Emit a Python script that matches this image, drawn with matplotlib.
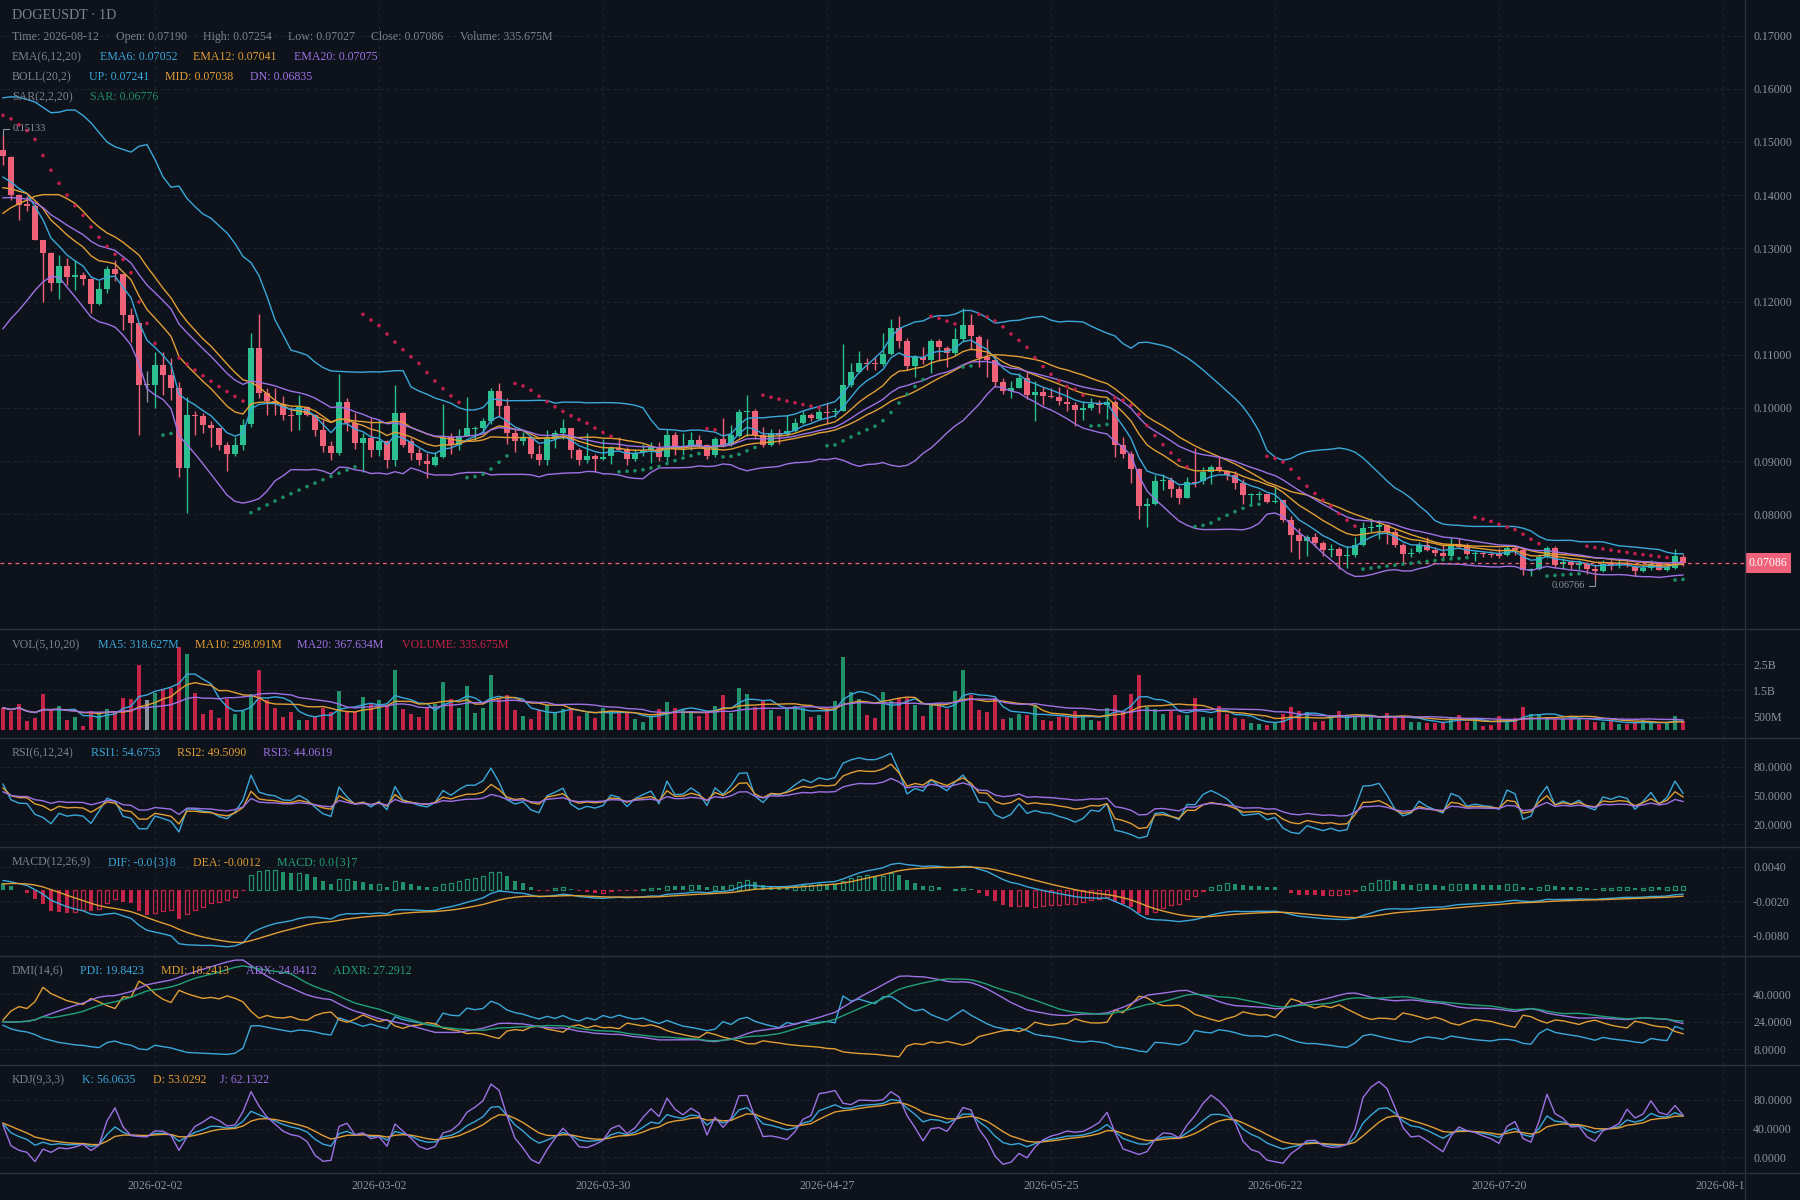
import numpy as np
import pandas as pd
import matplotlib
matplotlib.use("Agg")
import matplotlib.pyplot as plt
from matplotlib.lines import Line2D
from matplotlib.transforms import blended_transform_factory

plt.rcParams['font.family'] = ['Liberation Serif', 'DejaVu Serif']

# ---------------- data ----------------
first_day = "2026-01-14"

opens = [
    0.1484, 0.1472, 0.1401, 0.1383, 0.1379, 0.1316, 0.1292, 0.1234, 0.1266, 0.1246,
    0.1249, 0.1243, 0.1195, 0.1224, 0.1262, 0.1251, 0.1174, 0.1159, 0.1044, 0.1044,
    0.1080, 0.1061, 0.1038, 0.0887, 0.0986, 0.0984, 0.0967, 0.0962, 0.0930, 0.0913,
    0.0931, 0.0970, 0.1112, 0.1028, 0.1013, 0.1008, 0.0987, 0.0986, 0.1002, 0.0987,
    0.0959, 0.0929, 0.0915, 0.1011, 0.0971, 0.0935, 0.0943, 0.0921, 0.0937, 0.0902,
    0.0990, 0.0937, 0.0915, 0.0901, 0.0893, 0.0907, 0.0946, 0.0930, 0.0948, 0.0961,
    0.0962, 0.0975, 0.1031, 0.1003, 0.0953, 0.0937, 0.0943, 0.0914, 0.0903, 0.0942,
    0.0952, 0.0963, 0.0921, 0.0903, 0.0909, 0.0904, 0.0909, 0.0925, 0.0923, 0.0904,
    0.0917, 0.0920, 0.0923, 0.0908, 0.0950, 0.0926, 0.0928, 0.0939, 0.0931, 0.0911,
    0.0942, 0.0930, 0.0948, 0.0992, 0.0994, 0.0949, 0.0931, 0.0953, 0.0951, 0.0957,
    0.0972, 0.0986, 0.0980, 0.0993, 0.0992, 0.0995, 0.1043, 0.1067, 0.1085, 0.1085,
    0.1083, 0.1102, 0.1150, 0.1126, 0.1079, 0.1096, 0.1090, 0.1126, 0.1113, 0.1104,
    0.1129, 0.1155, 0.1134, 0.1096, 0.1091, 0.1048, 0.1031, 0.1038, 0.1057, 0.1025,
    0.1030, 0.1023, 0.1021, 0.1011, 0.1006, 0.0997, 0.1000, 0.1007, 0.1005, 0.1011,
    0.0930, 0.0914, 0.0885, 0.0816, 0.0819, 0.0862, 0.0864, 0.0848, 0.0831, 0.0861,
    0.0862, 0.0880, 0.0889, 0.0882, 0.0874, 0.0859, 0.0836, 0.0837, 0.0838, 0.0823,
    0.0826, 0.0789, 0.0761, 0.0750, 0.0758, 0.0746, 0.0733, 0.0735, 0.0722, 0.0724,
    0.0742, 0.0775, 0.0776, 0.0780, 0.0766, 0.0742, 0.0725, 0.0729, 0.0742, 0.0733,
    0.0727, 0.0721, 0.0745, 0.0742, 0.0725, 0.0727, 0.0726, 0.0727, 0.0723, 0.0736,
    0.0733, 0.0695, 0.0698, 0.0719, 0.0736, 0.0707, 0.0710, 0.0704, 0.0707, 0.0698,
    0.0693, 0.0709, 0.0705, 0.0709, 0.0701, 0.0694, 0.0699, 0.0707, 0.0695, 0.0699, 0.07190,
]
highs = [
    0.15133, 0.1473, 0.1403, 0.1398, 0.1384, 0.1316, 0.1293, 0.1288, 0.1281, 0.1279,
    0.1256, 0.1244, 0.1238, 0.1267, 0.1279, 0.1252, 0.1187, 0.1159, 0.1070, 0.1105,
    0.1105, 0.1094, 0.1048, 0.1021, 0.0994, 0.0991, 0.0976, 0.0963, 0.0936, 0.0945,
    0.0979, 0.1140, 0.1176, 0.1037, 0.1037, 0.1023, 0.1002, 0.1024, 0.1004, 0.0988,
    0.0977, 0.0937, 0.1063, 0.1018, 0.0990, 0.0952, 0.0981, 0.0977, 0.0940, 0.1044,
    0.0993, 0.0943, 0.0924, 0.0915, 0.0917, 0.1007, 0.0952, 0.0960, 0.1021, 0.0966,
    0.0981, 0.1038, 0.1046, 0.1019, 0.0960, 0.0955, 0.0948, 0.0930, 0.0959, 0.0958,
    0.0980, 0.0963, 0.0925, 0.0953, 0.0914, 0.0942, 0.0928, 0.0945, 0.0926, 0.0923,
    0.0933, 0.0936, 0.0936, 0.0961, 0.0955, 0.0952, 0.0955, 0.0950, 0.0933, 0.0945,
    0.0981, 0.0968, 0.0998, 0.1024, 0.0998, 0.0964, 0.0961, 0.0961, 0.0987, 0.0981,
    0.0995, 0.0991, 0.0998, 0.1010, 0.0999, 0.1121, 0.1085, 0.1107, 0.1094, 0.1096,
    0.1140, 0.1167, 0.1172, 0.1131, 0.1099, 0.1115, 0.1129, 0.1129, 0.1117, 0.1150,
    0.1187, 0.1176, 0.1137, 0.1129, 0.1099, 0.1057, 0.1051, 0.1065, 0.1068, 0.1051,
    0.1040, 0.1038, 0.1040, 0.1035, 0.1011, 0.1013, 0.1019, 0.1014, 0.1019, 0.1014,
    0.0945, 0.0919, 0.0888, 0.0830, 0.0873, 0.0875, 0.0870, 0.0854, 0.0870, 0.0924,
    0.0889, 0.0892, 0.0909, 0.0883, 0.0882, 0.0867, 0.0840, 0.0843, 0.0839, 0.0851,
    0.0826, 0.0797, 0.0775, 0.0761, 0.0764, 0.0750, 0.0744, 0.0738, 0.0740, 0.0757,
    0.0785, 0.0794, 0.0789, 0.0782, 0.0772, 0.0746, 0.0736, 0.0748, 0.0757, 0.0738,
    0.0742, 0.0756, 0.0756, 0.0746, 0.0731, 0.0731, 0.0731, 0.0737, 0.0740, 0.0740,
    0.0736, 0.0699, 0.0726, 0.0740, 0.0740, 0.0717, 0.0714, 0.0714, 0.0711, 0.0706,
    0.0715, 0.0715, 0.0714, 0.0712, 0.0704, 0.0704, 0.0714, 0.0711, 0.0704, 0.0734, 0.07254,
]
lows = [
    0.1456, 0.1390, 0.1353, 0.1370, 0.1315, 0.1200, 0.1219, 0.1204, 0.1232, 0.1221,
    0.1231, 0.1179, 0.1193, 0.1216, 0.1238, 0.1146, 0.1124, 0.0949, 0.1012, 0.0999,
    0.1024, 0.1014, 0.0870, 0.0803, 0.0949, 0.0952, 0.0927, 0.0920, 0.0881, 0.0909,
    0.0921, 0.0965, 0.1018, 0.0987, 0.0986, 0.0977, 0.0957, 0.0959, 0.0985, 0.0948,
    0.0917, 0.0902, 0.0912, 0.0957, 0.0923, 0.0880, 0.0907, 0.0910, 0.0887, 0.0890,
    0.0927, 0.0902, 0.0893, 0.0869, 0.0890, 0.0905, 0.0913, 0.0921, 0.0947, 0.0940,
    0.0952, 0.0970, 0.0983, 0.0933, 0.0918, 0.0930, 0.0906, 0.0893, 0.0893, 0.0925,
    0.0942, 0.0906, 0.0893, 0.0896, 0.0880, 0.0903, 0.0895, 0.0920, 0.0892, 0.0901,
    0.0909, 0.0896, 0.0901, 0.0901, 0.0912, 0.0911, 0.0920, 0.0925, 0.0904, 0.0908,
    0.0926, 0.0929, 0.0946, 0.0948, 0.0942, 0.0927, 0.0929, 0.0932, 0.0948, 0.0954,
    0.0970, 0.0975, 0.0977, 0.0970, 0.0983, 0.0994, 0.1040, 0.1065, 0.1072, 0.1071,
    0.1079, 0.1100, 0.1113, 0.1071, 0.1058, 0.1082, 0.1065, 0.1088, 0.1077, 0.1099,
    0.1125, 0.1109, 0.1077, 0.1058, 0.1040, 0.1027, 0.1019, 0.1037, 0.1016, 0.0975,
    0.1006, 0.1018, 0.1005, 0.0994, 0.0966, 0.0977, 0.0996, 0.0991, 0.0979, 0.0908,
    0.0906, 0.0859, 0.0791, 0.0777, 0.0817, 0.0845, 0.0832, 0.0819, 0.0830, 0.0852,
    0.0857, 0.0857, 0.0879, 0.0864, 0.0848, 0.0819, 0.0819, 0.0827, 0.0821, 0.0821,
    0.0785, 0.0730, 0.0716, 0.0722, 0.0738, 0.0722, 0.0719, 0.0697, 0.0700, 0.0719,
    0.0741, 0.0766, 0.0753, 0.0744, 0.0738, 0.0709, 0.0719, 0.0727, 0.0731, 0.0721,
    0.0717, 0.0717, 0.0736, 0.0723, 0.0712, 0.0720, 0.0719, 0.0717, 0.0721, 0.0723,
    0.0685, 0.0684, 0.0695, 0.0717, 0.0701, 0.0698, 0.0698, 0.0698, 0.0687, 0.06766,
    0.0692, 0.0695, 0.0700, 0.0701, 0.0684, 0.0692, 0.0696, 0.0695, 0.0694, 0.0698, 0.07027,
]
closes = [
    0.1473, 0.1401, 0.1382, 0.1380, 0.1316, 0.1292, 0.1234, 0.1266, 0.1246, 0.1249,
    0.1243, 0.1195, 0.1224, 0.1262, 0.1251, 0.1174, 0.1159, 0.1044, 0.1044, 0.1080,
    0.1061, 0.1038, 0.0887, 0.0986, 0.0984, 0.0967, 0.0962, 0.0930, 0.0913, 0.0931,
    0.0967, 0.1112, 0.1028, 0.1013, 0.1007, 0.0987, 0.0985, 0.1002, 0.0987, 0.0959,
    0.0929, 0.0915, 0.1011, 0.0971, 0.0935, 0.0943, 0.0921, 0.0937, 0.0902, 0.0990,
    0.0930, 0.0916, 0.0902, 0.0895, 0.0907, 0.0944, 0.0930, 0.0948, 0.0962, 0.0962,
    0.0975, 0.1031, 0.1003, 0.0953, 0.0937, 0.0943, 0.0914, 0.0903, 0.0942, 0.0952,
    0.0963, 0.0921, 0.0903, 0.0909, 0.0904, 0.0908, 0.0925, 0.0921, 0.0904, 0.0915,
    0.0921, 0.0926, 0.0908, 0.0950, 0.0926, 0.0927, 0.0939, 0.0931, 0.0909, 0.0942,
    0.0930, 0.0950, 0.0992, 0.0994, 0.0949, 0.0931, 0.0952, 0.0949, 0.0957, 0.0972,
    0.0986, 0.0982, 0.0993, 0.0991, 0.0995, 0.1043, 0.1067, 0.1085, 0.1083, 0.1083,
    0.1102, 0.1150, 0.1126, 0.1079, 0.1096, 0.1090, 0.1126, 0.1114, 0.1104, 0.1129,
    0.1155, 0.1135, 0.1094, 0.1091, 0.1048, 0.1031, 0.1038, 0.1057, 0.1025, 0.1030,
    0.1023, 0.1021, 0.1013, 0.1007, 0.0997, 0.1000, 0.1007, 0.1005, 0.1011, 0.0930,
    0.0914, 0.0885, 0.0816, 0.0819, 0.0862, 0.0864, 0.0848, 0.0831, 0.0860, 0.0859,
    0.0880, 0.0889, 0.0882, 0.0874, 0.0859, 0.0836, 0.0837, 0.0838, 0.0823, 0.0825,
    0.0789, 0.0761, 0.0750, 0.0758, 0.0746, 0.0733, 0.0735, 0.0722, 0.0723, 0.0742,
    0.0775, 0.0776, 0.0780, 0.0766, 0.0742, 0.0725, 0.0728, 0.0742, 0.0733, 0.0727,
    0.0721, 0.0743, 0.0739, 0.0725, 0.0727, 0.0725, 0.0724, 0.0721, 0.0736, 0.0733,
    0.0695, 0.0698, 0.0719, 0.0736, 0.0704, 0.0710, 0.0704, 0.0709, 0.0698, 0.0693,
    0.0707, 0.0704, 0.0707, 0.0705, 0.0693, 0.0699, 0.0707, 0.0695, 0.0701, 0.0721, 0.07086,
]
# volume in millions
volume_m = [
    840, 710, 970, 330, 460, 1350, 740, 920, 390, 510,
    170, 710, 640, 800, 710, 1200, 1160, 2450, 1120, 1400,
    1560, 1600, 3140, 2870, 1420, 590, 740, 460, 1180, 610,
    710, 1350, 2260, 1120, 840, 510, 680, 390, 390, 510,
    840, 680, 1460, 710, 680, 1250, 970, 1120, 930, 2260,
    800, 620, 480, 840, 1000, 1800, 1160, 830, 1650, 640,
    830, 2100, 1160, 1310, 760, 530, 420, 760, 940, 630,
    790, 840, 530, 660, 470, 830, 720, 630, 660, 420,
    320, 480, 790, 1060, 830, 780, 720, 530, 710, 910,
    1310, 660, 1580, 1360, 880, 1090, 760, 530, 840, 910,
    840, 490, 570, 830, 1090, 2780, 1430, 1160, 570, 460,
    1430, 1090, 1230, 1230, 940, 530, 940, 1040, 790, 1470,
    2290, 1340, 760, 690, 1220, 420, 460, 610, 570, 940,
    380, 340, 480, 480, 720, 510, 380, 340, 830, 1320,
    690, 1360, 2070, 880, 790, 610, 720, 570, 570, 1210,
    490, 460, 910, 610, 460, 420, 270, 230, 190, 310,
    610, 870, 720, 680, 310, 340, 460, 720, 530, 530,
    530, 490, 420, 640, 460, 530, 310, 310, 270, 270,
    270, 490, 570, 310, 380, 160, 190, 530, 340, 460,
    870, 610, 610, 490, 420, 460, 420, 460, 380, 310,
    310, 340, 230, 230, 270, 380, 270, 230, 270, 530, 335.675,
]

# indicator state at the left edge (history before the first visible day)
boll_up_head = [0.1583, 0.1585, 0.1584, 0.1580, 0.1575, 0.1565, 0.1555, 0.1556, 0.1560, 0.1560,
                0.1550, 0.1536, 0.1518, 0.1500, 0.1491, 0.1486, 0.1481, 0.1492, 0.1495]
boll_dn_head = [0.1149, 0.1168, 0.1184, 0.1202, 0.1221, 0.1237, 0.1247, 0.1246, 0.1227, 0.1209,
                0.1190, 0.1171, 0.1162, 0.1158, 0.1152, 0.1137, 0.1118, 0.1083, 0.1036]
ema_start = {6: 0.1434, 12: 0.1414, 20: 0.1395, 26: 0.1398}
dea_start = 0.0010
sar_start = 0.1550
rsi_start = {6: 62.0, 12: 58.0, 24: 54.0}
dmi_start = (22.0, 25.0, 24.0)   # PDI, MDI, ADX
kd_prior = (55.0, 48.0)

date_ticks = ["2026-02-02", "2026-03-02", "2026-03-30", "2026-04-27",
              "2026-05-25", "2026-06-22", "2026-07-20", "2026-08-17"]

# ---------------- indicators ----------------
o, h, l, c = map(np.array, (opens, highs, lows, closes))
vol = np.array(volume_m) * 1e6
n = len(c)
idx = np.arange(n)
dates = pd.date_range(first_day, periods=n, freq="D")
tick_idx = [(pd.Timestamp(d) - dates[0]).days for d in date_ticks]


def ema(x, span, first):
    a = 2.0 / (span + 1)
    out = np.empty(len(x))
    out[0] = first
    for i in range(1, len(x)):
        out[i] = out[i - 1] + a * (x[i] - out[i - 1])
    return out


ema6 = ema(c, 6, ema_start[6])
ema12 = ema(c, 12, ema_start[12])
ema20 = ema(c, 20, ema_start[20])

cs = pd.Series(c)
mid = cs.rolling(20).mean().to_numpy()
sd = cs.rolling(20).std(ddof=0).to_numpy()
bup, bdn = mid + 2 * sd, mid - 2 * sd
k0 = len(boll_up_head)
bup[:k0], bdn[:k0] = boll_up_head, boll_dn_head
mid[:k0] = (bup[:k0] + bdn[:k0]) / 2


def psar(h, l, start, af_start=0.02, step=0.02, af_max=0.2):
    # same stepping as the charting library: ep/af refreshed on the bar itself
    out = np.empty(len(h))
    rising = np.zeros(len(h), bool)
    s, ep, af, up_tr = start, l[0], af_start, False
    out[0] = s
    for i in range(1, len(h)):
        if up_tr:
            if ep is None or ep < h[i]:
                ep, af = h[i], min(af + step, af_max)
            s = s + af * (ep - s)
            low_min = min(l[i - 1], l[i])
            if s > l[i]:
                s, af, ep, up_tr = ep, af_start, None, False
            elif s > low_min:
                s = low_min
        else:
            if ep is None or ep > l[i]:
                ep, af = l[i], min(af + step, af_max)
            s = s + af * (ep - s)
            high_max = max(h[i - 1], h[i])
            if s < h[i]:
                s, af, ep, up_tr = ep, 0.0, None, True
            elif s < high_max:
                s = high_max
        out[i] = s
        rising[i] = up_tr
    return out, rising


sar, sar_up = psar(h, l, sar_start)

vs = pd.Series(vol)
vma5 = vs.rolling(5, min_periods=1).mean()
vma10 = vs.rolling(10, min_periods=1).mean()
vma20 = vs.rolling(20, min_periods=1).mean()

chg = np.diff(c)
chg_scale = np.abs(chg[:24]).mean()


def rsi(p, start):
    g, a = start / 100 * chg_scale, chg_scale
    out = [start]
    for d in chg:
        g = (max(d, 0) + (p - 1) * g) / p
        a = (abs(d) + (p - 1) * a) / p
        out.append(100 * g / a)
    return np.array(out)


rsi6, rsi12, rsi24 = rsi(6, rsi_start[6]), rsi(12, rsi_start[12]), rsi(24, rsi_start[24])

dif = ema12 - ema(c, 26, ema_start[26])
dea = ema(dif, 9, dea_start)
macd = 2 * (dif - dea)

# DMI(14,6): Wilder smoothing for TR / DM and for ADX, ADXR from ADX 6 bars back
prev_c = np.r_[c[0], c[:-1]]
prev_h = np.r_[h[0], h[:-1]]
prev_l = np.r_[l[0], l[:-1]]
tr = np.max([h - l, np.abs(h - prev_c), np.abs(l - prev_c)], axis=0)
hd, ld = h - prev_h, prev_l - l
dmp = np.where((hd > 0) & (hd > ld), hd, 0.0)
dmm = np.where((ld > 0) & (ld > hd), ld, 0.0)
N, MM = 14, 6
mtr = N * tr[1:N + 1].mean()
sp, sm = dmi_start[0] / 100 * mtr, dmi_start[1] / 100 * mtr
av = dmi_start[2]
pdi, mdi, adx = [dmi_start[0]], [dmi_start[1]], [av]
for i in range(1, n):
    mtr = mtr - mtr / N + tr[i]
    sp = sp - sp / N + dmp[i]
    sm = sm - sm / N + dmm[i]
    p, m = sp * 100 / mtr, sm * 100 / mtr
    dx = abs(m - p) / (m + p) * 100 if (m + p) > 0 else 0.0
    av = (av * (N - 1) + dx) / N
    pdi.append(p)
    mdi.append(m)
    adx.append(av)
pdi, mdi = np.array(pdi), np.array(mdi)
adx_s = pd.Series(adx)
adxr = ((adx_s + adx_s.shift(MM)) / 2).fillna(adx_s).to_numpy()
adx = adx_s.to_numpy()

llv = pd.Series(l).rolling(9, min_periods=1).min().to_numpy()
hhv = pd.Series(h).rolling(9, min_periods=1).max().to_numpy()
rsv = (c - llv) / (hhv - llv) * 100
kk, dd = [], []
kv, dv = kd_prior
for r in rsv:
    kv = (2 * kv + r) / 3
    dv = (2 * dv + kv) / 3
    kk.append(kv)
    dd.append(dv)
kk, dd = np.array(kk), np.array(dd)
jj = 3 * kk - 2 * dd

# ---------------- style ----------------
BG = "#0d121b"
GRID = "#1e2531"
SEP = "#2a313e"
TXT = "#7b838f"
TICK = "#8c949f"
CYAN = "#3aa8da"
ORANGE = "#e29e34"
PURPLE = "#9d72e4"
TEAL = "#22a078"
UP = "#2ac08f"
DOWN = "#f0617a"
FLAT = "#8a909a"
VUP, VDN = "#22906a", "#c52449"
SAR_UP, SAR_DN = "#1e8c63", "#c01f48"

W, H = 1800, 1200
AXR = 1745
FS = 8.6
XL = (-0.375, 217.75)

fig = plt.figure(figsize=(18, 12), dpi=100, facecolor=BG)


def panel(top, bottom):
    return fig.add_axes([0, 1 - bottom / H, AXR / W, (bottom - top) / H], facecolor=BG)


def style(ax, ylim, ticks, labels):
    ax.set_xlim(XL)
    ax.set_ylim(ylim)
    for s in ax.spines.values():
        s.set_visible(False)
    ax.set_xticks(tick_idx)
    ax.set_yticks(ticks)
    ax.set_yticklabels(labels)
    ax.yaxis.tick_right()
    ax.tick_params(axis="x", length=0, labelbottom=False)
    ax.tick_params(axis="y", length=0, pad=5.8, labelcolor=TICK, labelsize=FS)
    ax.grid(True, color=GRID, lw=0.8, ls=(0, (3, 3)))
    ax.set_axisbelow(True)


def put(x, y, s, color=TXT, size=FS):
    fig.text(x / W, 1 - y / H, s, color=color, fontsize=size, ha="left", va="center")


is_up = c > o
is_dn = c < o
ccol = np.where(is_up, UP, np.where(is_dn, DOWN, FLAT))

# main panel
ax = panel(0, 629)
pticks = np.round(np.arange(0.08, 0.1701, 0.01), 2)
style(ax, (0.058439, 0.176693), pticks, [f"{t:.5f}" for t in pticks])
ax.vlines(idx, l, h, colors=ccol, lw=1.0, zorder=2)
ax.bar(idx, np.maximum(np.abs(c - o), 0.00019), bottom=np.minimum(o, c), width=0.66,
       color=ccol, lw=0, zorder=2)
for series, col in ((bup, CYAN), (mid, ORANGE), (bdn, PURPLE),
                    (ema6, CYAN), (ema12, ORANGE), (ema20, PURPLE)):
    ax.plot(idx, series, color=col, lw=1.0, zorder=3)
ax.scatter(idx, sar, s=7, c=np.where(sar_up, SAR_UP, SAR_DN), lw=0, zorder=4)
ax.axhline(c[-1], color=DOWN, lw=0.9, ls=(0, (3, 3)), zorder=3)
tr_lbl = blended_transform_factory(ax.transAxes, ax.transData)
ax.text(1 + 4 / AXR, c[-1], f"{c[-1]:.5f}", transform=tr_lbl, color="white", fontsize=FS,
        ha="left", va="center", clip_on=False,
        bbox=dict(boxstyle="square,pad=0.3", fc=DOWN, ec="none"))

# highest / lowest marks
px_x, px_y = 1 / 8.0, 1 / 5319.0
hi_i, lo_i = int(np.argmax(h)), int(np.argmin(l))
ax.plot([hi_i, hi_i, hi_i + 5.6 * px_x], [h[hi_i], h[hi_i] + 5.6 * px_y, h[hi_i] + 5.6 * px_y],
        color=TICK, lw=0.8, zorder=5)
ax.text(hi_i + 9.7 * px_x, h[hi_i] + 6.5 * px_y, f"{h[hi_i]:.5f}", color=TICK, fontsize=7.4,
        ha="left", va="center", zorder=5)
ax.plot([lo_i, lo_i, lo_i - 5.6 * px_x], [l[lo_i], l[lo_i] - 5.6 * px_y, l[lo_i] - 5.6 * px_y],
        color=TICK, lw=0.8, zorder=5)
ax.text(lo_i - 10.5 * px_x, l[lo_i] - 5.7 * px_y, f"{l[lo_i]:.5f}", color=TICK, fontsize=7.4,
        ha="right", va="center", zorder=5)

# volume panel
axv = panel(629, 738)
style(axv, (-0.303e9, 3.826e9), [0.5e9, 1.5e9, 2.5e9], ["500M", "1.5B", "2.5B"])
axv.bar(idx, vol, width=0.62, color=np.where(is_up, VUP, np.where(is_dn, VDN, FLAT)), lw=0)
for series, col in ((vma5, CYAN), (vma10, ORANGE), (vma20, PURPLE)):
    axv.plot(idx, series, color=col, lw=1.0)

# RSI panel
axr = panel(738, 847)
style(axr, (-3.7, 110.2), [20, 50, 80], ["20.0000", "50.0000", "80.0000"])
for series, col in ((rsi6, CYAN), (rsi12, ORANGE), (rsi24, PURPLE)):
    axr.plot(idx, series, color=col, lw=1.0)

# MACD panel
axm = panel(847, 956)
style(axm, (-0.01156, 0.00744), [-0.008, -0.002, 0.004], ["-0.0080", "-0.0020", "0.0040"])
rising = np.r_[False, np.diff(macd) > 0]
mcol = np.where(macd > 0, VUP, VDN)
filled = ~rising
axm.bar(idx[filled], macd[filled], width=0.52, color=mcol[filled], lw=0)
axm.bar(idx[rising], macd[rising], width=0.40, facecolor="none", edgecolor=mcol[rising], lw=0.9)
axm.plot(idx, dif, color=CYAN, lw=1.0)
axm.plot(idx, dea, color=ORANGE, lw=1.0)

# DMI panel
axd = panel(956, 1065)
style(axd, (-1.1, 62.2), [8, 24, 40], ["8.0000", "24.0000", "40.0000"])
for series, col in ((pdi, CYAN), (mdi, ORANGE), (adx, PURPLE), (adxr, TEAL)):
    axd.plot(idx, series, color=col, lw=1.0)

# KDJ panel
axk = panel(1065, 1173)
style(axk, (-22, 128.5), [0, 40, 80], ["0.0000", "40.0000", "80.0000"])
for series, col in ((kk, CYAN), (dd, ORANGE), (jj, PURPLE)):
    axk.plot(idx, series, color=col, lw=1.0)

# date axis (labels clipped at the price-axis edge)
axt = panel(1173, 1200)
axt.set_xlim(XL)
axt.set_ylim(0, 1)
axt.axis("off")
for ti, lab in zip(tick_idx, date_ticks):
    axt.text(ti, 0.52, lab, color=TICK, fontsize=FS, ha="center", va="center", clip_on=True)

# separators
for ypx in (629, 738, 847, 956, 1065, 1173):
    fig.add_artist(Line2D([0, 1], [1 - ypx / H] * 2, color=SEP, lw=1.0))
fig.add_artist(Line2D([AXR / W] * 2, [0, 1], color=SEP, lw=1.0))

# legends
put(12, 15.7, "DOGEUSDT · 1D", size=10.1)
put(12, 36.7, f"Time: {dates[-1]:%Y-%m-%d}")
put(115.6, 36.7, f"Open: {o[-1]:.5f}")
put(202.8, 36.7, f"High: {h[-1]:.5f}")
put(288.2, 36.7, f"Low: {l[-1]:.5f}")
put(371.2, 36.7, f"Close: {c[-1]:.5f}")
put(460.4, 36.7, f"Volume: {volume_m[-1]:.3f}M")
put(12, 57.3, "EMA(6,12,20)")
put(99.5, 57.3, "EMA6: 0.07052", CYAN)
put(193.3, 57.3, "EMA12: 0.07041", ORANGE)
put(293.5, 57.3, "EMA20: 0.07075", PURPLE)
put(12, 77.3, "BOLL(20,2)")
put(88.8, 77.3, "UP: 0.07241", CYAN)
put(165.3, 77.3, "MID: 0.07038", ORANGE)
put(250.3, 77.3, "DN: 0.06835", PURPLE)
put(12, 97.3, "SAR(2,2,20)")
put(89.6, 97.3, "SAR: 0.06776", SAR_UP)

put(12, 645, "VOL(5,10,20)")
put(97.6, 645, "MA5: 318.627M", CYAN)
put(194.7, 645, "MA10: 298.091M", ORANGE)
put(297.3, 645, "MA20: 367.634M", PURPLE)
put(401.5, 645, "VOLUME: 335.675M", VDN)

put(12, 753, "RSI(6,12,24)")
put(90.7, 753, "RSI1: 54.6753", CYAN)
put(176.8, 753, "RSI2: 49.5090", ORANGE)
put(262.9, 753, "RSI3: 44.0619", PURPLE)

put(12, 862.5, "MACD(12,26,9)")
put(107.9, 862.5, "DIF: -0.0{3}8", CYAN)
put(192.7, 862.5, "DEA: -0.0012", ORANGE)
put(276.7, 862.5, "MACD: 0.0{3}7", TEAL)

put(12, 971.2, "DMI(14,6)")
put(80.4, 971.2, "PDI: 19.8423", CYAN)
put(160.7, 971.2, "MDI: 18.2413", ORANGE)
put(245.7, 971.2, "ADX: 24.8412", PURPLE)
put(332.9, 971.2, "ADXR: 27.2912", TEAL)

put(12, 1080.3, "KDJ(9,3,3)")
put(81.5, 1080.3, "K: 56.0635", CYAN)
put(152.7, 1080.3, "D: 53.0292", ORANGE)
put(220.4, 1080.3, "J: 62.1322", PURPLE)

fig.savefig("out.png", dpi=100, facecolor=BG)
